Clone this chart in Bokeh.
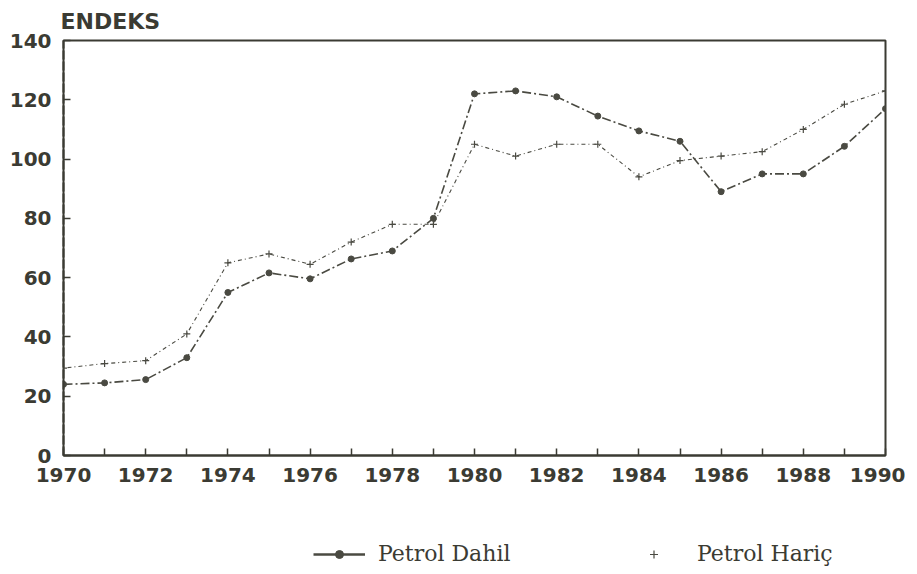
from bokeh.plotting import figure
from bokeh.layouts import column
from bokeh.models import FixedTicker, Legend, LegendItem, Range1d
from bokeh.embed import file_html
from bokeh.resources import INLINE

years = list(range(1970, 1991))
petrol_dahil = [24, 24.5, 25.6, 33, 55, 61.6, 59.6, 66.3, 69, 80,
                122, 123, 121, 114.5, 109.5, 106, 89, 95, 95, 104.3, 117]
petrol_haric = [29.5, 31, 32, 41, 65, 68, 64.5, 72, 78, 78,
                105, 101, 105, 105, 94, 99.5, 101, 102.5, 110, 118.5, 123]
x_major = [1970, 1972, 1974, 1976, 1978, 1980, 1982, 1984, 1986, 1988, 1990]
x_minor = [1971, 1973, 1975, 1977, 1979, 1981, 1983, 1985, 1987, 1989]
y_ticks = [0, 20, 40, 60, 80, 100, 120, 140]

INK = "#3b3b33"
LINE = "#4a4a42"

p = figure(width=905, height=500, output_backend="svg", toolbar_location=None,
           x_range=Range1d(1970, 1990), y_range=Range1d(0, 140),
           min_border_left=63, min_border_right=20, min_border_top=36,
           min_border_bottom=45, title="ENDEKS")
p.background_fill_color = "white"
p.border_fill_color = "white"
p.outline_line_color = INK
p.outline_line_width = 2
p.grid.visible = False

p.title.text_font = "DejaVu Sans"
p.title.text_font_style = "bold"
p.title.text_font_size = "22px"
p.title.text_line_height = 1.0
p.title.text_color = INK
p.title.align = "left"
p.title.offset = -3
p.title.standoff = 13

for ax in (p.xaxis[0], p.yaxis[0]):
    ax.axis_line_color = INK
    ax.axis_line_width = 2
    ax.major_tick_line_color = INK
    ax.minor_tick_line_color = INK
    ax.major_tick_line_width = 1.5
    ax.minor_tick_line_width = 1.5
    ax.major_tick_in = 7
    ax.major_tick_out = 0
    ax.minor_tick_in = 7
    ax.minor_tick_out = 0
    ax.major_label_text_font = "DejaVu Sans"
    ax.major_label_text_font_style = "bold"
    ax.major_label_text_font_size = "20px"
    ax.major_label_text_color = INK

p.xaxis[0].ticker = FixedTicker(ticks=x_major, minor_ticks=x_minor)
p.xaxis[0].major_label_standoff = 12
p.yaxis[0].ticker = FixedTicker(ticks=y_ticks)
p.yaxis[0].major_label_standoff = 12
p.yaxis[0].axis_line_dash = "9 2"

p.line(years, petrol_dahil, line_color=LINE, line_width=1.6, line_dash="9 3 2 3")
p.scatter(years, petrol_dahil, marker="circle", size=6, fill_color=LINE, line_color=LINE)
p.line(years, petrol_haric, line_color=LINE, line_width=1.1, line_dash="1 3 4 3")
p.scatter(years, petrol_haric, marker="cross", size=7, line_color=LINE, line_width=1.2)

# legend strip below the chart (its glyphs lie outside its own view ranges)
lf = figure(width=905, height=72, output_backend="svg", toolbar_location=None,
            x_range=Range1d(0, 1), y_range=Range1d(0, 1),
            x_axis_type=None, y_axis_type=None, min_border=0)
lf.outline_line_color = None
lf.grid.visible = False
lf.background_fill_color = "white"
lf.border_fill_color = "white"
l1 = lf.line(years, petrol_dahil, line_color=LINE, line_width=2.5)
s1 = lf.scatter(years, petrol_dahil, marker="circle", size=8, fill_color=LINE, line_color=LINE)
s2 = lf.scatter(years, petrol_haric, marker="cross", size=8, line_color=LINE, line_width=1.2)

common = dict(orientation="horizontal", glyph_height=20, padding=0, margin=0,
              label_text_font="DejaVu Serif", label_text_font_size="22px",
              label_text_color=INK, background_fill_alpha=0, border_line_color=None)
lg1 = Legend(items=[LegendItem(label="Petrol Dahil", renderers=[l1, s1])],
             location=(250, 6), glyph_width=52, label_standoff=13, **common)
lg2 = Legend(items=[LegendItem(label="Petrol Hariç", renderers=[s2])],
             location=(579, 6), glyph_width=23, label_standoff=32, **common)
lf.add_layout(lg1)
lf.add_layout(lg2)

layout = column(p, lf, spacing=0)
open("out.html", "w").write(file_html(layout, INLINE))
